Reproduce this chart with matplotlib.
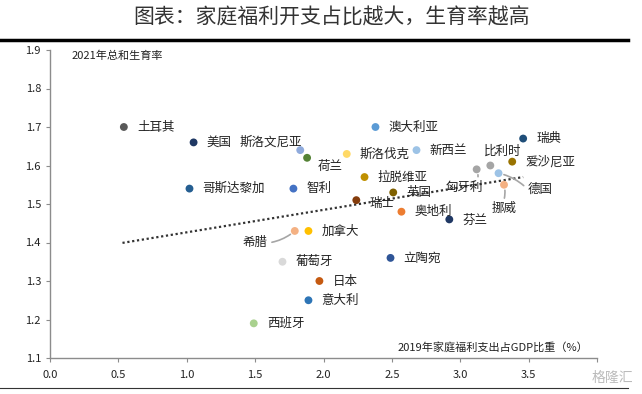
import numpy as np
import matplotlib
matplotlib.use('Agg')
import matplotlib.pyplot as plt
from matplotlib.lines import Line2D

plt.rcParams['font.family'] = ['Noto Sans CJK SC', 'DejaVu Sans']
plt.rcParams['axes.unicode_minus'] = False

# 数据：2019年家庭福利支出占GDP比重(%) vs 2021年总和生育率
countries = ['土耳其', '美国', '斯洛文尼亚', '荷兰', '哥斯达黎加', '智利',
             '澳大利亚', '斯洛伐克', '新西兰', '拉脱维亚', '瑞士', '英国',
             '奥地利', '芬兰', '匈牙利', '比利时', '爱沙尼亚', '瑞典',
             '德国', '挪威', '希腊', '加拿大', '葡萄牙', '日本', '意大利',
             '西班牙', '立陶宛']
welfare = [0.54, 1.05, 1.83, 1.88, 1.02, 1.78,
           2.38, 2.17, 2.68, 2.30, 2.24, 2.51,
           2.57, 2.92, 3.12, 3.22, 3.38, 3.46,
           3.28, 3.32, 1.79, 1.89, 1.70, 1.97, 1.89,
           1.49, 2.49]
tfr = [1.70, 1.66, 1.64, 1.62, 1.54, 1.54,
       1.70, 1.63, 1.64, 1.57, 1.51, 1.53,
       1.48, 1.46, 1.59, 1.60, 1.61, 1.67,
       1.58, 1.55, 1.43, 1.43, 1.35, 1.30, 1.25,
       1.19, 1.36]
colors = ['#595959', '#1f3864', '#8faadc', '#548235', '#255e91', '#4472c4',
          '#5b9bd5', '#ffd966', '#9dc3e6', '#bf9000', '#843c0c', '#7f6000',
          '#ed7d31', '#203864', '#a5a5a5', '#a5a5a5', '#997300', '#1f4e79',
          '#9dc3e6', '#f4b183', '#f4b183', '#ffc000', '#d9d9d9', '#c55a11',
          '#2e75b6', '#a9d18e', '#2f5597']

# 趋势线两端
trend_x = [0.53, 3.46]
trend_y = [1.399, 1.570]

# 标签偏移（像素），带引线的单独处理
offsets = {'斯洛文尼亚': (-61, 8), '荷兰': (11, -9), '瑞士': (13, -3),
           '芬兰': (13, -1), '比利时': (-6, 14)}
leaders = {'匈牙利': ((-31, -18), (0.85, 1.0)),
           '德国': ((29, -16), (0.0, 0.5)),
           '挪威': ((-12, -24), (0.45, 1.0)),
           '希腊': ((-52, -12), (1.0, 0.5))}

fig = plt.figure(figsize=(6.42, 3.94), dpi=100)
ax = fig.add_axes([50 / 642, 1 - 358 / 394, 547 / 642, 308 / 394])

ax.scatter(welfare, tfr, s=32, c=colors, zorder=3, linewidths=0)

# 趋势线
ax.plot(trend_x, trend_y, linestyle=(0, (1, 1.2)), color='#333333', lw=1.6, zorder=2)

for name, x, y in zip(countries, welfare, tfr):
    if name in leaders:
        (dx, dy), rp = leaders[name]
        ax.annotate(name, (x, y), xytext=(dx, dy), textcoords='offset pixels',
                    fontsize=9, va='center', ha='left', color='#222222', zorder=4,
                    arrowprops=dict(arrowstyle='-', color='#a6a6a6', lw=1.2,
                                    relpos=rp, shrinkA=1, shrinkB=4,
                                    connectionstyle='arc3,rad=0.15'))
    else:
        dx, dy = offsets.get(name, (13, 0))
        ax.annotate(name, (x, y), xytext=(dx, dy), textcoords='offset pixels',
                    fontsize=9, va='center', ha='left', color='#222222', zorder=4)

ax.set_xlim(0, 4.0)
ax.set_ylim(1.1, 1.9)
ax.set_xticks(np.arange(0, 4.01, 0.5))
ax.set_xticklabels([f'{v:.1f}' for v in np.arange(0, 3.51, 0.5)] + [''])
ax.set_yticks(np.arange(1.1, 1.91, 0.1))
ax.set_yticklabels([f'{v:.1f}' for v in np.arange(1.1, 1.91, 0.1)])
for s in ['top', 'right']:
    ax.spines[s].set_visible(False)
for s in ['left', 'bottom']:
    ax.spines[s].set_color('#8c8c8c')
    ax.spines[s].set_linewidth(1.0)
ax.tick_params(axis='both', colors='#8c8c8c', labelcolor='#222222', labelsize=8, length=3)
ax.tick_params(axis='x', pad=6)

ax.text(0.04, 0.98, '2021年总和生育率', transform=ax.transAxes, fontsize=8,
        ha='left', va='center', color='#222222')
ax.text(0.985, 0.033, '2019年家庭福利支出占GDP比重（%）', transform=ax.transAxes,
        fontsize=8, ha='right', va='center', color='#222222')

# 标题与横线
fig.text(332 / 642, 1 - 18 / 394, '图表：家庭福利开支占比越大，生育率越高',
         fontsize=15, ha='center', va='center', color='#333333')
fig.add_artist(Line2D([0, 628 / 642], [1 - 40 / 394] * 2, color='black', lw=2.5))
fig.add_artist(Line2D([0, 628 / 642], [1 - 388 / 394] * 2, color='#333333', lw=0.8))
fig.text(612 / 642, 1 - 378 / 394, '格隆汇', fontsize=10, ha='center', va='center',
         color='#bbbbbb')

fig.savefig('out.png', dpi=100)
